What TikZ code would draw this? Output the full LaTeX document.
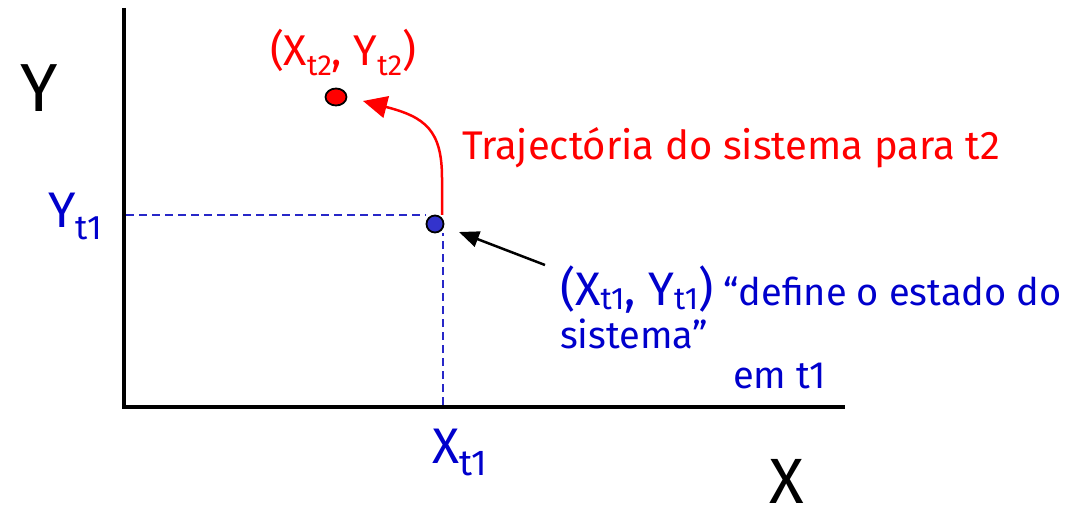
\documentclass[tikz,border=0pt]{standalone}
\usepackage{fontspec}
\setmainfont{Fira Sans}
\usetikzlibrary{arrows.meta,shapes.geometric}
\definecolor{tblue}{RGB}{0,0,204}
\definecolor{dblue}{RGB}{40,40,200}
\definecolor{dotblue}{RGB}{51,51,204}
\definecolor{tred}{RGB}{255,0,0}
\newcommand\fsz[1]{\fontsize{#1}{#1}\selectfont}
\newcommand\lsub[3]{\raisebox{-#1}{\fsz{#2}#3}}
\begin{document}
\begin{tikzpicture}[x=1pt,y=-1pt,
  lbl/.style={inner sep=0pt, outer sep=0pt},
  axis/.style={line width=4.5pt, black},
  guide/.style={dashed, dash pattern=on 8pt off 5pt, line width=1.6pt, dblue},
  dotstyle/.style={draw=black, line width=1.8pt, inner sep=0pt}]
\useasboundingbox (0,0) rectangle (1092,513);
% axes
\coordinate (o) at (124,407);
\coordinate (ytop) at (124,8);
\coordinate (xend) at (845,407);
\draw[axis] (ytop) -- (124,409);
\draw[axis] (122,407) -- (xend);
% axis labels
\node[lbl, anchor=base west, text=black] (ylab) at (20,112) {\fsz{68}Y};
\node[lbl, anchor=base west, text=black] (xlab) at (769,503) {\fsz{64}X};
% dots
\node[dotstyle, circle, fill=dotblue, minimum size=17pt] (p1) at (435,224) {};
\node[dotstyle, ellipse, fill=tred, minimum width=21pt, minimum height=17pt] (p2) at (336,97) {};
% guide lines
\coordinate (gy) at (126,215);
\coordinate (gx) at (443,405);
\draw[guide] (gy) -- (p1.west |- gy);
\draw[guide] (gx) -- (p1.south -| gx);
% tick labels
\node[lbl, anchor=base west, text=tblue] (yt1) at (48,228) {\fsz{50}Y\lsub{12pt}{34}{t1}};
\node[lbl, anchor=base west, text=tblue] (xt1) at (432,463) {\fsz{50}X\lsub{12pt}{36}{t1}};
% red point label
\node[lbl, anchor=base west, text=tred] (p2lab) at (270,66) {\fsz{43}(X\lsub{10pt}{29}{t2}, Y\lsub{10pt}{29}{t2})};
% trajectory
\coordinate (ts) at (442,215);
\coordinate (te) at (363,101);
\draw[tred, line width=2.5pt, -{Triangle[length=24pt,width=22pt]}]
  (ts) -- (442,178) .. controls (442,130) and (425,117) .. (te);
\node[lbl, anchor=base west, text=tred] (traj) at (462,160) {\fsz{40}Trajectória do sistema para t2};
% state text
\node[lbl, anchor=base west, text=tblue] (st1) at (560,305) {\fsz{47}(X\lsub{4pt}{31}{t1}, Y\lsub{4pt}{31}{t1})\fsz{38} “define o estado do};
\node[lbl, anchor=base west, text=tblue] (st2) at (560,348) {\fsz{38}sistema”};
\node[lbl, anchor=base west, text=tblue] (st3) at (733,388) {\fsz{38}em t1};
% black arrow
\coordinate (as) at (545,265);
\coordinate (ae) at (459,232);
\draw[black, line width=2.5pt, -{Triangle[length=20pt,width=16pt]}] (as) -- (ae);
\end{tikzpicture}
\end{document}
